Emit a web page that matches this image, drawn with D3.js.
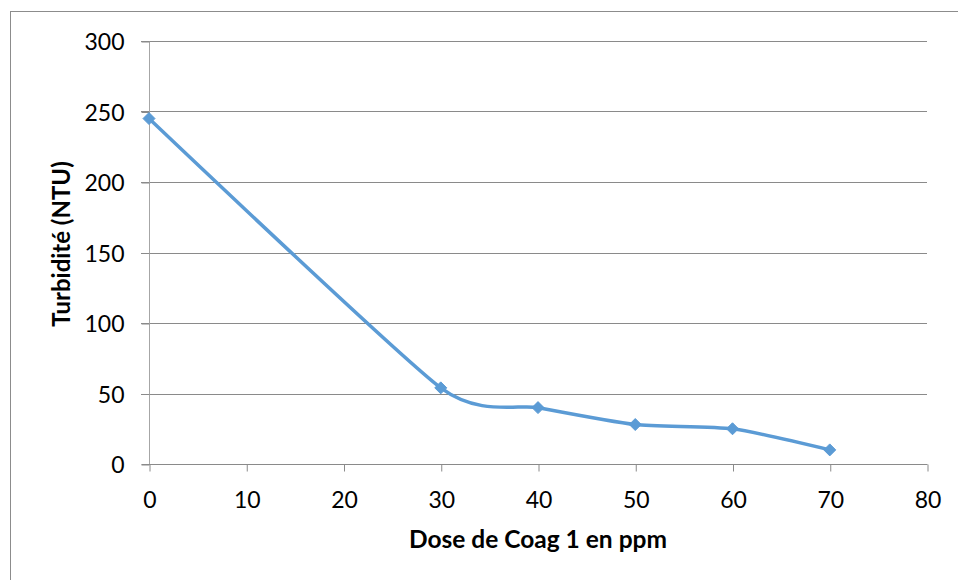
<!DOCTYPE html>
<html>
<head>
<meta charset="utf-8">
<script src="https://cdn.jsdelivr.net/npm/d3@7"></script>
<style>
  html, body { margin: 0; padding: 0; background: #fff; }
  svg text { font-family: Lato, "Open Sans", sans-serif; fill: #000; }
</style>
</head>
<body>
<svg id="chart" width="958" height="580"></svg>
<script>
// Turbidity measured at each coagulant dose
const doses = [0, 30, 40, 50, 60, 70];
const turbidity = [245, 54, 40, 28, 25, 10];
const xTicks = [0, 10, 20, 30, 40, 50, 60, 70, 80];
const yTicks = [0, 50, 100, 150, 200, 250, 300];
const xTitle = "Dose de Coag 1 en ppm";
const yTitle = "Turbidité (NTU)";

const svg = d3.select("#chart");

// chart frame (left and top edges visible)
svg.append("rect")
  .attr("x", 10.5).attr("y", 11.5)
  .attr("width", 1000).attr("height", 1000)
  .attr("fill", "none").attr("stroke", "#8c8c8c").attr("stroke-width", 1);

const x = d3.scaleLinear().domain([0, 80]).range([149, 927]);
const y = d3.scaleLinear().domain([0, 300]).range([464, 41]);

// horizontal gridlines
svg.append("g").selectAll("line")
  .data(yTicks.filter(v => v > 0))
  .join("line")
  .attr("x1", x(0) - 8).attr("x2", x(80))
  .attr("y1", d => Math.round(y(d)) + 0.5).attr("y2", d => Math.round(y(d)) + 0.5)
  .attr("stroke", "#8a8a8a").attr("stroke-width", 1);

// y axis
const yAxis = svg.append("g")
  .attr("transform", `translate(${x(0) + 0.5},0.5)`)
  .call(d3.axisLeft(y).tickValues(yTicks).tickSize(8).tickPadding(17).tickFormat(d3.format("d")));
yAxis.select(".domain").attr("stroke", "#a6a6a6").attr("d", `M0,${y(300)}V${y(0)}`);
yAxis.selectAll(".tick line").attr("stroke", "#8a8a8a");
yAxis.selectAll(".tick text").style("font-size", "23px").attr("dy", "0.36em");

// x axis
const xAxis = svg.append("g")
  .attr("transform", `translate(0.5,${Math.round(y(0)) + 0.5})`)
  .call(d3.axisBottom(x).tickValues(xTicks).tickSize(7).tickPadding(20).tickFormat(d3.format("d")));
xAxis.select(".domain").attr("stroke", "#8a8a8a").attr("d", `M${x(0) - 8},0H${x(80)}`);
xAxis.selectAll(".tick line").attr("stroke", "#8a8a8a");
xAxis.selectAll(".tick text").style("font-size", "23px");

// axis titles
svg.append("text")
  .attr("x", 538).attr("y", 548)
  .attr("text-anchor", "middle")
  .style("font-size", "24.5px").style("font-weight", "bold")
  .text(xTitle);

svg.append("text")
  .attr("transform", `translate(70,244) rotate(-90)`)
  .attr("text-anchor", "middle")
  .style("font-size", "24px").style("font-weight", "bold")
  .text(yTitle);

// smoothed series line
const pts = doses.map((d, i) => [d, turbidity[i]]);
const line = d3.line()
  .x(d => x(d[0])).y(d => y(d[1]))
  .curve(d3.curveCardinal.tension(0.4));

svg.append("path")
  .datum(pts)
  .attr("d", line)
  .attr("fill", "none")
  .attr("stroke", "#5B9BD5")
  .attr("stroke-width", 3.5)
  .attr("stroke-linejoin", "round");

// diamond markers
svg.append("g").selectAll("path")
  .data(pts)
  .join("path")
  .attr("transform", d => `translate(${x(d[0])},${y(d[1])})`)
  .attr("d", "M0,-6L6,0L0,6L-6,0Z")
  .attr("fill", "#5B9BD5")
  .attr("stroke", "#5B9BD5")
  .attr("stroke-width", 1);
</script>
</body>
</html>
